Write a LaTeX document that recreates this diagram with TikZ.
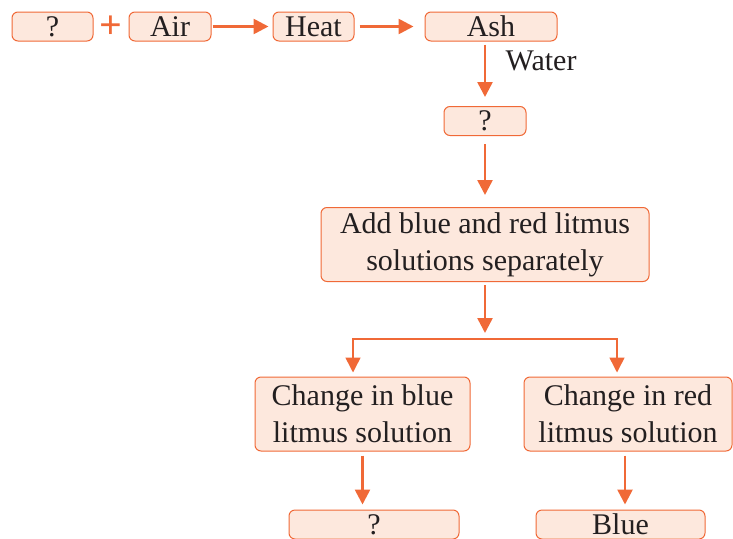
\documentclass[tikz,border=0pt]{standalone}
\usepackage{fontspec}
\setmainfont{Liberation Serif}
\usepackage{tikz}
\usetikzlibrary{arrows.meta, positioning, calc}
\definecolor{FlowOrange}{RGB}{240, 105, 55}
\definecolor{FlowFill}{RGB}{253, 232, 221}
\definecolor{FlowText}{RGB}{35, 31, 32}

\tikzset{
  flowbox/.style={
    rounded corners=6pt, draw=FlowOrange, fill=FlowFill,
    line width=1pt, inner sep=0pt, text=FlowText,
    font=\fontsize{30}{37}\selectfont, align=center
  },
  onebox/.style={flowbox, minimum height=29pt, text height=21pt, text depth=2pt},
  twobox/.style={flowbox, minimum height=74pt},
  flowarrow/.style={
    draw=FlowOrange, line width=2.6pt, shorten <=3pt, shorten >=5pt,
    -{Triangle[length=15pt, width=15pt]}
  },
  splitarrow/.style={flowarrow, line width=1.5pt}
}

\begin{document}
\begin{tikzpicture}[x=1pt, y=-1pt]
    \useasboundingbox (0,0) rectangle (733,538);

    % top row
    \node[onebox, minimum width=81pt] (fuel) at (52.5,26.5) {?};
    \node[text=FlowOrange, font=\fontsize{40}{40}\selectfont\bfseries] (plus) at (111,27) {+};
    \node[onebox, minimum width=82pt] (air) at (170,26.5) {Air};
    \node[onebox, minimum width=81pt] (heat) at (313.5,26.5) {Heat};
    \node[onebox, minimum width=132pt] (ash) at (491,26.5) {Ash};

    % middle column
    \node[onebox, minimum width=82pt] (solution) at (485,121) {?};
    \node[twobox, minimum width=328pt] (litmus) at (485,244.5)
      {Add blue and red litmus\\solutions separately};
    \coordinate (split) at (485,339);

    % branches
    \node[twobox, minimum width=215pt] (bluechange) at (362.5,414)
      {Change in blue\\litmus solution};
    \node[twobox, minimum width=208pt] (redchange) at (628,414)
      {Change in red\\litmus solution};
    \node[onebox, minimum width=170pt] (blueres) at (374,524.5) {?};
    \node[onebox, minimum width=169pt] (redres) at (620.5,524.5) {Blue};

    % connectors
    \draw[flowarrow, shorten <=1pt, shorten >=4pt] (air) -- (heat);
    \draw[flowarrow, shorten <=5pt, shorten >=11pt] (heat) -- (ash);
    \draw[flowarrow, shorten >=9pt] (ash.south -| solution) -- (solution.north)
      node[pos=0.3, right=16pt, text=FlowText, font=\fontsize{30}{37}\selectfont] (water) {Water};
    \draw[flowarrow, shorten <=8pt, shorten >=12pt] (solution) -- (litmus);
    \draw[flowarrow, shorten >=6pt] (litmus) -- (split);
    \draw[splitarrow, shorten <=0pt, shorten >=4pt] (split) -| ([xshift=-9.5pt]bluechange.north);
    \draw[splitarrow, shorten <=0pt, shorten >=4pt] (split) -| ([xshift=-11pt]redchange.north);
    \draw[flowarrow, shorten <=4pt] (bluechange.south) -- (bluechange.south |- blueres.north);
    \draw[flowarrow, shorten <=4pt] ([xshift=-3pt]redchange.south) -- ([xshift=-3pt]redchange.south |- redres.north);
\end{tikzpicture}
\end{document}
